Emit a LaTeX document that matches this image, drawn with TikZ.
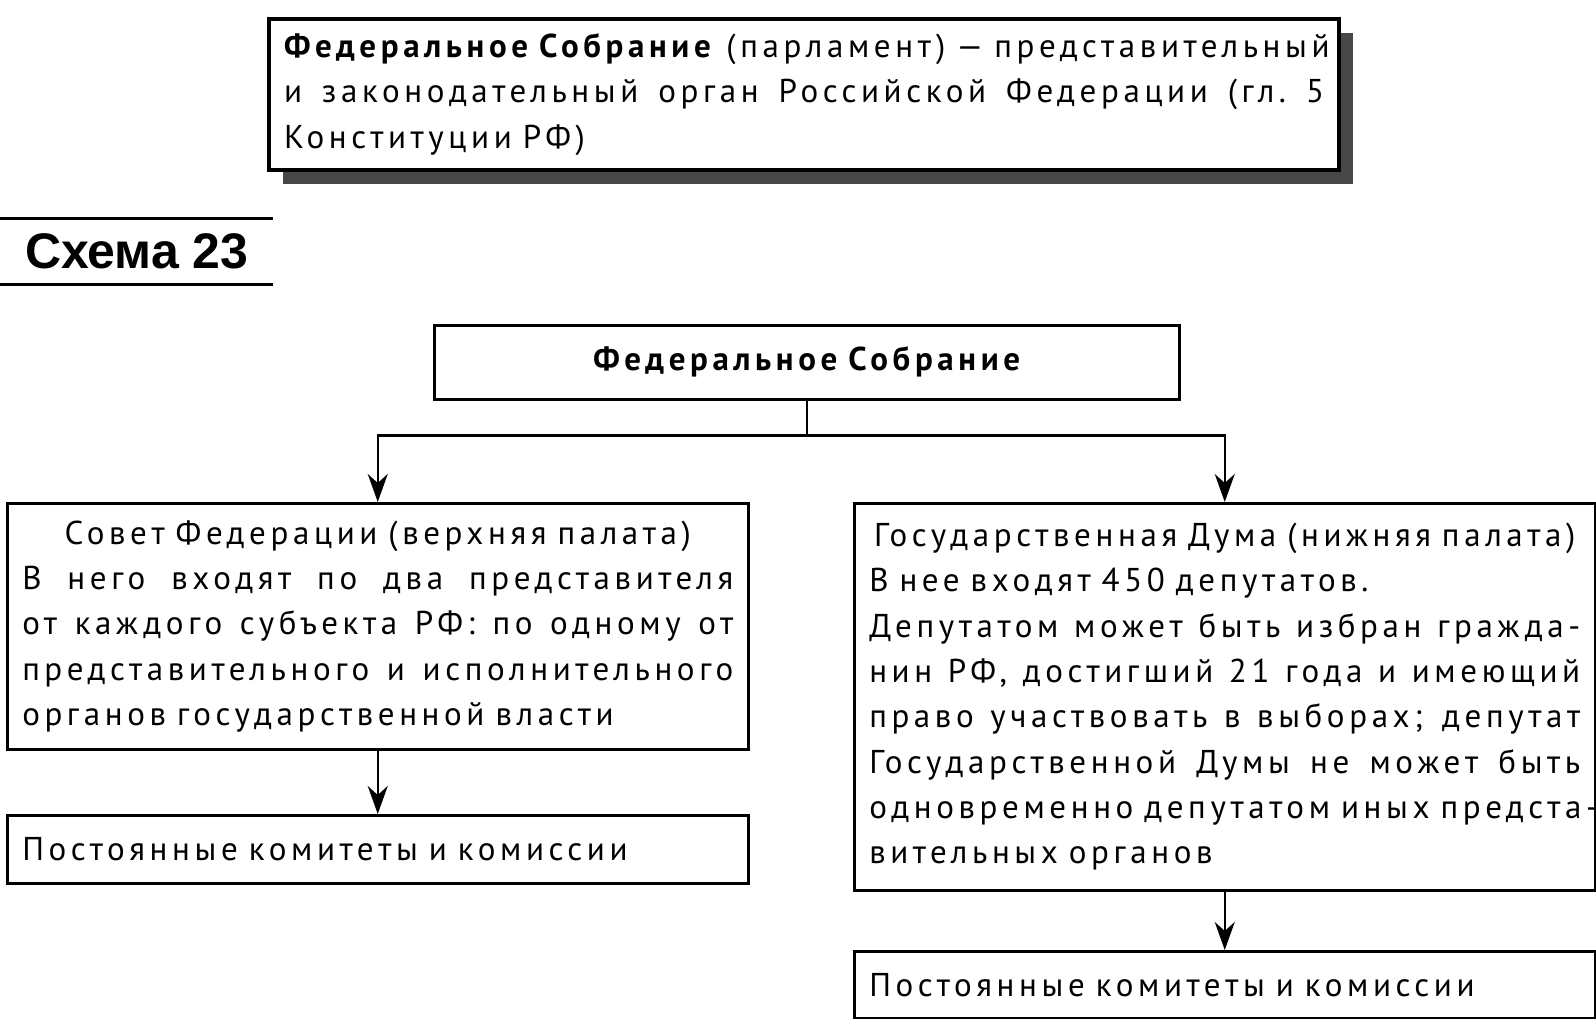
\documentclass[tikz,border=0pt]{standalone}
\usepackage{fontspec}
\setmainfont{PT Sans}[LetterSpace=14]
\newfontfamily\headfont{Liberation Sans}
\usetikzlibrary{arrows.meta,shadows}

\newcommand{\fullline}[1]{\makebox[\linewidth][s]{#1}}
\newcommand{\midline}[1]{\makebox[\linewidth][c]{#1}}

\tikzset{
  box/.style={draw, fill=white, line width=2.5pt, anchor=north west, inner xsep=15pt, inner ysep=0pt,
    align=left, font=\fontsize{33}{45.3}\selectfont,
    execute at begin node={\spaceskip=.3333em plus 1em\xspaceskip=.3333em plus 1em\relax}},
  link/.style={line width=2.5pt, -{Stealth[length=28pt,width=20pt,inset=9pt]}},
}

\begin{document}
\begin{tikzpicture}[x=1pt,y=-1pt]
\useasboundingbox (0,0) rectangle (1596,1019);

% definition box
\node[box, line width=4pt, text width=1040pt, minimum height=151pt,
  drop shadow={shadow xshift=14pt, shadow yshift=-14pt, fill=black!72, opacity=1}] (def) at (267,17)
  {\fullline{\textbf{Федеральное Собрание} (парламент) — представительный}\\
   \fullline{и законодательный орган Российской Федерации (гл. 5}\\
   Конституции РФ)};

% heading
\node[anchor=west, inner sep=0pt, font=\headfont\bfseries\fontsize{50}{50}\selectfont] (scheme) at (25,251) {Схема 23};
\draw[line width=3pt] (0,219) -- (273,219);
\draw[line width=3pt] (0,284) -- (273,284);

% chart
\node[box, text width=715pt, align=center, minimum height=74pt,
  font=\bfseries\fontsize{33}{45.3}\selectfont,
  execute at begin node={\spaceskip=.3333em\relax}] (fed) at (433,324) {Федеральное Собрание};

\node[box, text width=711pt, minimum height=246pt] (sovet) at (6,502)
  {\midline{Совет Федерации (верхняя палата)}\\
   \fullline{В него входят по два представителя}\\
   \fullline{от каждого субъекта РФ: по одному от}\\
   \fullline{представительного и исполнительного}\\
   органов государственной власти};

\node[box, text width=711pt, minimum height=387pt] (duma) at (853,502)
  {\midline{Государственная Дума (нижняя палата)}\\
   В нее входят 450 депутатов.\\
   \fullline{Депутатом может быть избран гражда-}\\
   \fullline{нин РФ, достигший 21 года и имеющий}\\
   \fullline{право участвовать в выборах; депутат}\\
   \fullline{Государственной Думы не может быть}\\
   \fullline{одновременно депутатом иных предста-}\\
   вительных органов};

\node[box, text width=711pt, minimum height=68pt] (komL) at (6,814) {Постоянные комитеты и комиссии};
\node[box, text width=711pt, minimum height=67pt] (komR) at (853,950) {Постоянные комитеты и комиссии};

\coordinate (split) at ([yshift=-35pt]fed.south);
\draw[line width=2.5pt] (fed.south) -- (split);
\draw[link] (split) -| (sovet.north);
\draw[link] (split) -| (duma.north);
\draw[link] (sovet.south) -- (komL.north);
\draw[link] (duma.south) -- (komR.north);

\end{tikzpicture}
\end{document}
